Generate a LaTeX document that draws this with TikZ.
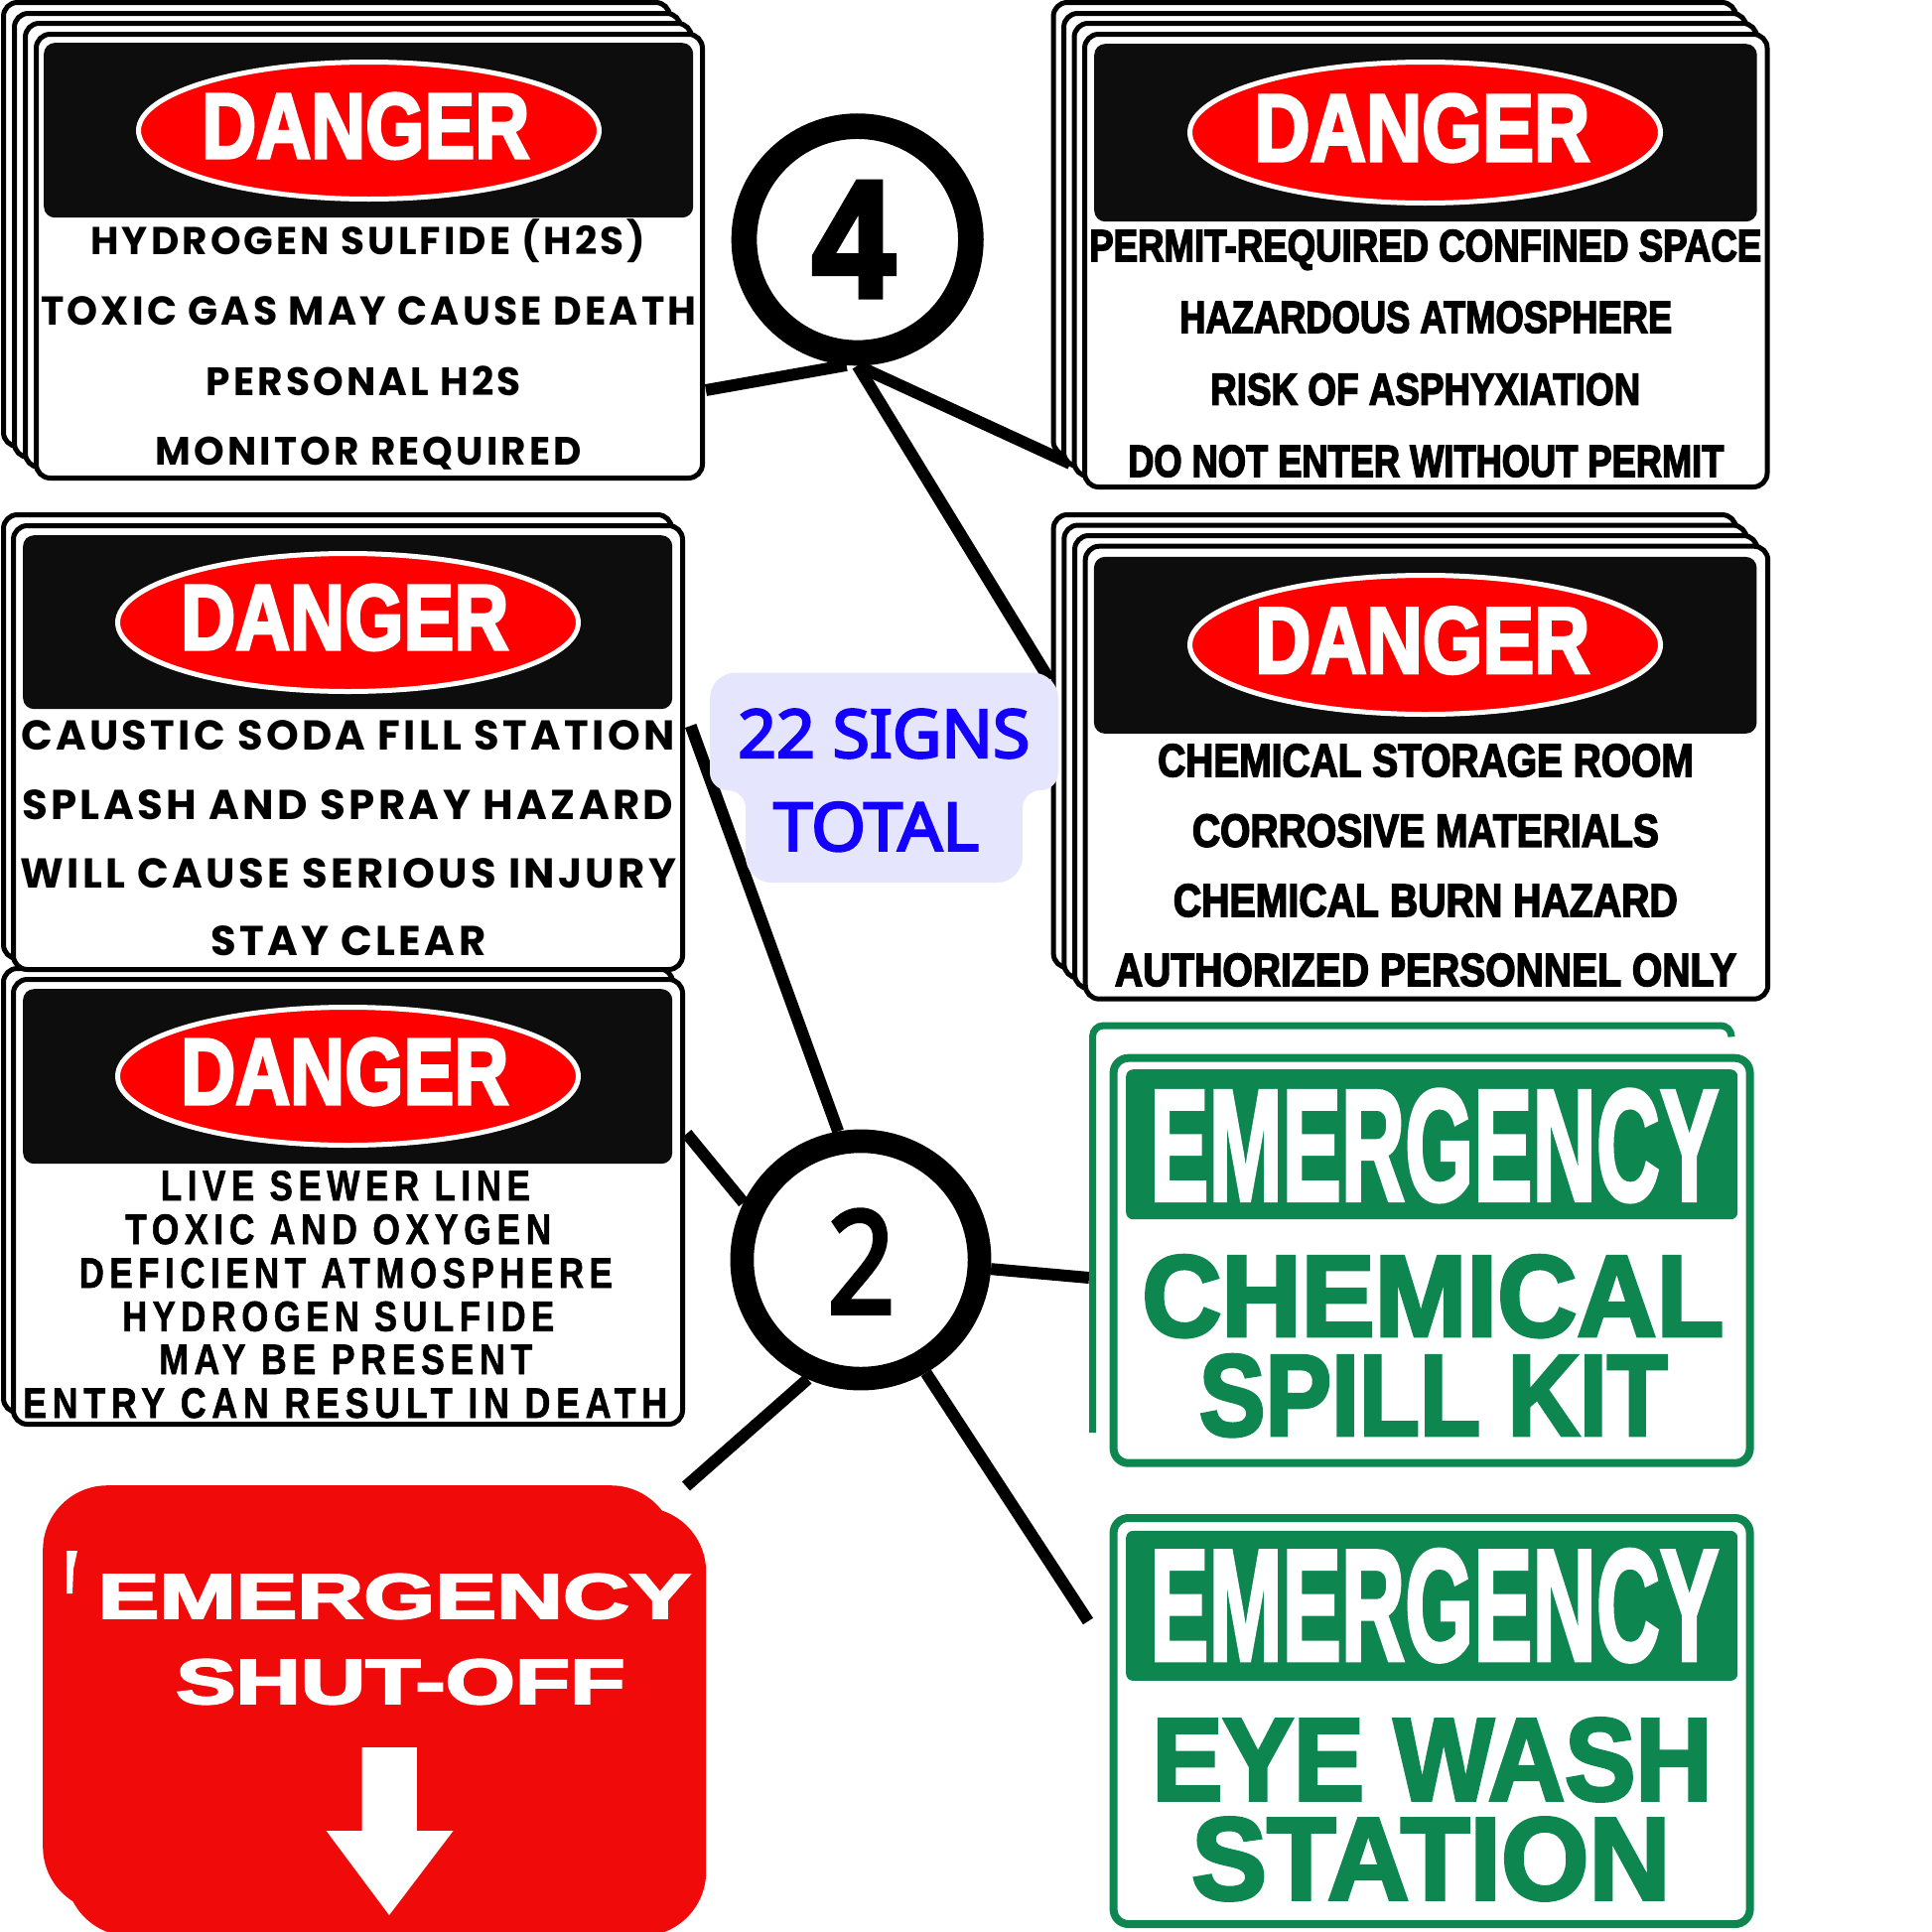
\documentclass[tikz,border=0pt]{standalone}
\usepackage{fontspec}
\usepackage{graphicx}
\usetikzlibrary{shapes.geometric, backgrounds}

\newfontfamily\popfont[LetterSpace=8,BoldFont={Poppins Bold}]{Poppins}
\newfontfamily\libfont[BoldFeatures={FakeBold=3.5}]{Liberation Sans}
\newfontfamily\spacedfont[LetterSpace=16,BoldFeatures={FakeBold=1.5}]{Liberation Sans}
\newfontfamily\heavyfont[BoldFeatures={FakeBold=3}]{Liberation Sans}
\newfontfamily\blackfont[BoldFeatures={FakeBold=2.5}]{Liberation Sans}
\newfontfamily\notofont[FakeBold=3.5]{Noto Sans}

\definecolor{dangerred}{HTML}{FF0000}
\definecolor{panelblack}{HTML}{0D0D0D}
\definecolor{signgreen}{HTML}{0D864F}
\definecolor{stopred}{HTML}{F00A0A}
\definecolor{bubbleblue}{HTML}{E5E5FD}
\definecolor{signblue}{HTML}{1400FF}

% width, cap height, text
\newcommand{\fitline}[3]{\resizebox{#1pt}{#2pt}{\smash{#3}\vphantom{H}}}

\tikzset{
	plate/.style={draw=black, line width=5pt, fill=white, rounded corners=14pt, anchor=north west, inner sep=0pt},
	greenplate/.style={plate, draw=signgreen, line width=8pt, rounded corners=15pt},
	panel/.style={fill=panelblack, rounded corners=11pt, anchor=north west, inner sep=0pt},
	greenpanel/.style={panel, fill=signgreen, rounded corners=7pt},
	oval/.style={ellipse, draw=white, line width=5pt, fill=dangerred, inner sep=0pt},
	redplate/.style={fill=stopred, rounded corners=65pt, anchor=north west, inner sep=0pt},
	ring/.style={circle, draw=black, fill=white, inner sep=0pt},
	link/.style={draw=black, line width=12pt},
	word/.style={anchor=base west, inner sep=0pt},
	title/.style={word, text=white, font=\libfont\bfseries},
	pop/.style={word, font=\popfont\bfseries},
	tall/.style={word, font=\libfont\bfseries},
	spaced/.style={word, font=\spacedfont\bfseries},
	green/.style={word, text=signgreen, font=\heavyfont\bfseries},
	greenhead/.style={word, text=white, font=\blackfont\bfseries},
	stopword/.style={word, text=white, font=\heavyfont\bfseries},
}

\begin{document}
\begin{tikzpicture}[x=1pt, y=-1pt]
	\useasboundingbox (0,0) rectangle (1946,1946);

	% live sewer
	\node[plate, minimum width=674pt, minimum height=447pt] (sewerback) at (1,973) {};
	\node[plate, minimum width=674pt, minimum height=448pt] (sewer) at (11,984) {};
	\node[panel, minimum width=654pt, minimum height=176pt] (sewerpanel) at (23,996) {};
	\node[oval, minimum width=464pt, minimum height=139pt] (seweroval) at (350.5,1084) {};
	\node[title] (sewertitle) at (182,1112) {\fitline{330}{65}{DANGER}};
	\node[spaced] (sewera) at (161.6,1209) {\fitline{372}{29.5}{LIVE SEWER LINE}};
	\node[spaced] (sewerb) at (126,1253) {\fitline{429}{29.5}{TOXIC AND OXYGEN}};
	\node[spaced] (sewerc) at (79.5,1297) {\fitline{537}{29.5}{DEFICIENT ATMOSPHERE}};
	\node[spaced] (sewerd) at (123,1340.7) {\fitline{435}{29.5}{HYDROGEN SULFIDE}};
	\node[spaced] (sewere) at (160,1384) {\fitline{376}{29.5}{MAY BE PRESENT}};
	\node[spaced] (sewerf) at (23,1428) {\fitline{649}{29.5}{ENTRY CAN RESULT IN DEATH}};

	% caustic soda
	\node[plate, minimum width=673pt, minimum height=447pt] (causticback) at (1,516) {};
	\node[plate, minimum width=674pt, minimum height=447pt] (caustic) at (11,527) {};
	\node[panel, minimum width=654pt, minimum height=175pt] (causticpanel) at (23,539) {};
	\node[oval, minimum width=464pt, minimum height=139pt] (causticoval) at (350.5,627) {};
	\node[title] (caustictitle) at (182,654) {\fitline{330}{64}{DANGER}};
	\node[pop] (caustica) at (21,755.7) {\fitline{658}{29.5}{CAUSTIC SODA FILL STATION}};
	\node[pop] (causticb) at (22,825) {\fitline{656}{29.5}{SPLASH AND SPRAY HAZARD}};
	\node[pop] (causticc) at (20,894) {\fitline{661}{29.5}{WILL CAUSE SERIOUS INJURY}};
	\node[pop] (causticd) at (212,962.7) {\fitline{277}{29.5}{STAY CLEAR}};

	% hydrogen sulfide
	\foreach \i/\px/\py in {3/1/0, 2/12/11, 1/23/21}
		\node[plate, minimum width=671pt, minimum height=447pt] (sulfide\i) at (\px,\py) {};
	\node[plate, minimum width=671pt, minimum height=447pt] (sulfide) at (34,32) {};
	\node[panel, minimum width=654pt, minimum height=176pt] (sulfidepanel) at (44,43) {};
	\node[oval, minimum width=464pt, minimum height=138pt] (sulfideoval) at (371.5,131.5) {};
	\node[title] (sulfidetitle) at (203,159) {\fitline{330}{64}{DANGER}};
	\node[pop] (sulfidea) at (91,256.7) {\fitline{559}{27.5}{HYDROGEN SULFIDE (H2S)}};
	\node[pop] (sulfideb) at (41,327.7) {\fitline{660}{28.5}{TOXIC GAS MAY CAUSE DEATH}};
	\node[pop] (sulfidec) at (207.5,398) {\fitline{317}{28}{PERSONAL H2S}};
	\node[pop] (sulfided) at (156.6,468) {\fitline{429}{28}{MONITOR REQUIRED}};

	% confined space
	\foreach \i/\px/\py in {3/1058.5/0, 2/1069/11, 1/1079.5/21}
		\node[plate, minimum width=687.5pt, minimum height=456pt] (permit\i) at (\px,\py) {};
	\node[plate, minimum width=687.5pt, minimum height=456pt] (permit) at (1090,32) {};
	\node[panel, minimum width=667.5pt, minimum height=179pt] (permitpanel) at (1102,44) {};
	\node[oval, minimum width=474pt, minimum height=142pt] (permitoval) at (1435.5,133.5) {};
	\node[title] (permittitle) at (1263,162) {\fitline{338}{66}{DANGER}};
	\node[tall] (permita) at (1097,263) {\fitline{677}{31}{PERMIT-REQUIRED CONFINED SPACE}};
	\node[tall] (permitb) at (1188,335) {\fitline{496}{31}{HAZARDOUS ATMOSPHERE}};
	\node[tall] (permitc) at (1219,407.7) {\fitline{433}{31}{RISK OF ASPHYXIATION}};
	\node[tall] (permitd) at (1136,480) {\fitline{600}{31}{DO NOT ENTER WITHOUT PERMIT}};

	% chemical storage
	\foreach \i/\px/\py in {3/1058.6/516, 2/1069.3/526.5, 1/1080/537}
		\node[plate, minimum width=687.5pt, minimum height=456pt] (storage\i) at (\px,\py) {};
	\node[plate, minimum width=687.5pt, minimum height=456pt] (storage) at (1090.7,547.7) {};
	\node[panel, minimum width=667.5pt, minimum height=178pt] (storagepanel) at (1101.7,560.7) {};
	\node[oval, minimum width=474pt, minimum height=140pt] (storageoval) at (1435.5,649.5) {};
	\node[title] (storagetitle) at (1264,677.7) {\fitline{337}{65}{DANGER}};
	\node[tall] (storagea) at (1166,782) {\fitline{539.5}{32}{CHEMICAL STORAGE ROOM}};
	\node[tall] (storageb) at (1200.7,852.7) {\fitline{470}{32}{CORROSIVE MATERIALS}};
	\node[tall] (storagec) at (1181.6,923) {\fitline{508}{32}{CHEMICAL BURN HAZARD}};
	\node[tall] (storaged) at (1122.7,993) {\fitline{626}{32}{AUTHORIZED PERSONNEL ONLY}};

	% spill kit
	\draw[draw=signgreen, line width=7pt, rounded corners=11pt] (1100.5,1443) -- (1100.5,1033) -- (1744,1033) -- (1744,1043);
	\node[greenplate, minimum width=641pt, minimum height=408pt] (spill) at (1117.6,1061.7) {};
	\node[greenpanel, minimum width=616pt, minimum height=151pt] (spillpanel) at (1134,1077) {};
	\node[greenhead] (spillhead) at (1158,1209) {\fitline{573}{110}{EMERGENCY}};
	\node[green] (spilla) at (1150,1345.7) {\fitline{586}{80}{CHEMICAL}};
	\node[green] (spillb) at (1207.6,1445.7) {\fitline{472}{80}{SPILL KIT}};

	% eye wash
	\node[greenplate, minimum width=641pt, minimum height=409pt] (eyewash) at (1117.6,1525) {};
	\node[greenpanel, minimum width=616pt, minimum height=151pt] (eyepanel) at (1134,1541.7) {};
	\node[greenhead] (eyehead) at (1158,1672.3) {\fitline{573}{110}{EMERGENCY}};
	\node[green] (eyea) at (1160,1813) {\fitline{564}{81}{EYE WASH}};
	\node[green] (eyeb) at (1200,1913) {\fitline{482}{81}{STATION}};

	% shut-off
	\node[redplate, minimum width=637pt, minimum height=429pt] (stopback) at (43,1496) {};
	\node[redplate, minimum width=645pt, minimum height=432pt] (stop) at (66,1518) {};
	\fill[white] (67,1562) -- (78,1562) -- (74,1580) -- (73,1605) -- (67,1605) -- cycle;
	\node[stopword] (stopa) at (98.4,1630) {\fitline{597}{44}{EMERGENCY}};
	\node[stopword] (stopb) at (177,1716) {\fitline{452}{44}{SHUT-OFF}};
	\fill[white] (364.5,1760) -- (419.8,1760) -- (419.8,1844) -- (456.6,1844) -- (392,1929) -- (328.6,1844) -- (364.5,1844) -- cycle;

	% counts
	\node[ring, line width=25.7pt, minimum size=228.4pt] (four) at (863.7,241.3) {};
	\node[word, font=\libfont\bfseries] (fourlabel) at (818,298.7) {\fitline{83}{115}{4}};
	\node[ring, line width=23.7pt, minimum size=239.2pt] (two) at (867,1269) {};
	\node[word, font=\notofont] (twolabel) at (833.3,1322.3) {\fitline{68}{102}{2}};

	\coordinate (sulfideend) at (711,393);
	\coordinate (permitend) at (1078,467);
	\coordinate (storageend) at (1057,684.6);
	\coordinate (causticend) at (695.7,731);
	\coordinate (sewerend) at (691.7,1141.8);
	\coordinate (stopend) at (691,1497);
	\coordinate (spillend) at (1097,1287);
	\coordinate (eyeend) at (1096,1633);

	\begin{scope}[on background layer]
		\draw[link] (four.265) -- (sulfideend);
		\draw[link] (four.south) -- (permitend);
		\draw[link] (four.south) -- (storageend);
		\draw[link] (two.100) -- (causticend);
		\draw[link] (two.154) -- (sewerend);
		\draw[link] (two.246) -- (stopend);
		\draw[link] (two.-4) -- (spillend);
		\draw[link] (two.-60) -- (eyeend);
	\end{scope}

	% total
	\fill[bubbleblue] (890,677.5) [rounded corners=26pt] -- (1066,677.5) [rounded corners=18pt] -- (1066,796) -- (1030,796) [rounded corners=26pt] -- (1030,889) -- (751,889) [rounded corners=18pt] -- (751,796) -- (715,796) [rounded corners=26pt] -- (715,677.5) -- cycle;
	\node[word, text=signblue, font=\notofont] (totala) at (743,763) {\fitline{294}{48}{22 SIGNS}};
	\node[word, text=signblue, font=\notofont] (totalb) at (779,856.8) {\fitline{207}{48}{TOTAL}};
\end{tikzpicture}
\end{document}
